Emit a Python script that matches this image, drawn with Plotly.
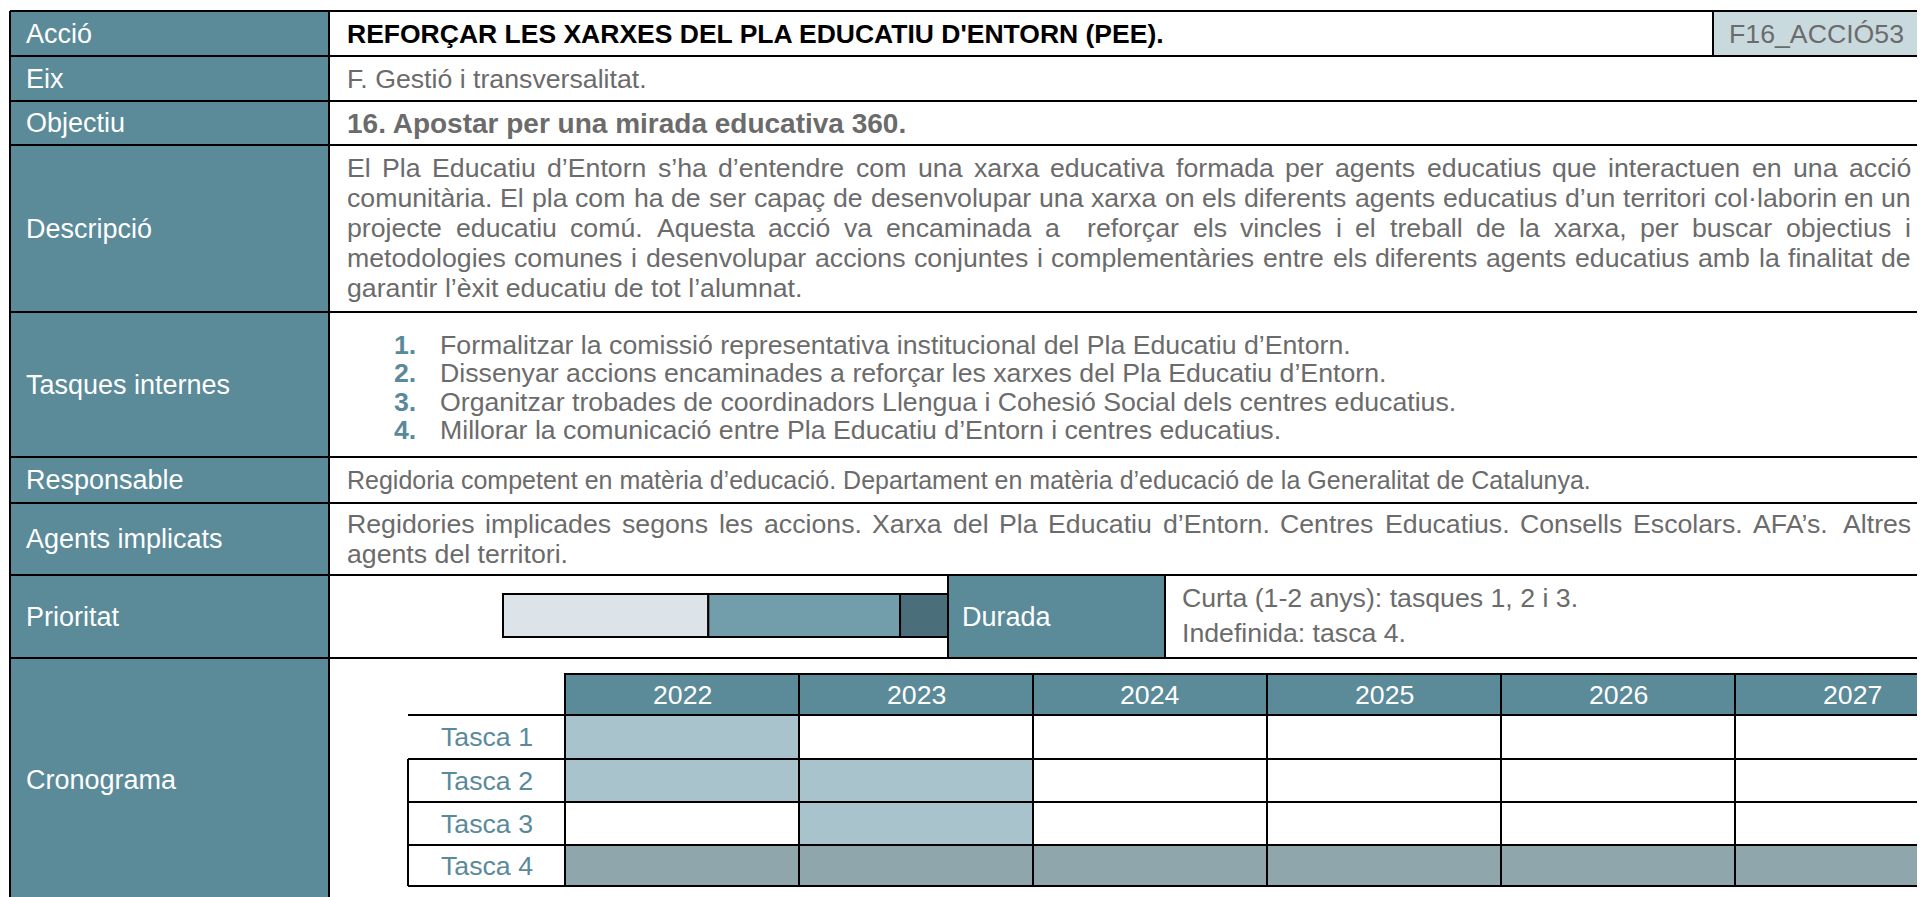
import plotly.graph_objects as go

# ---------------- data ----------------
row_labels = ["Acció", "Eix", "Objectiu", "Descripció", "Tasques internes",
              "Responsable", "Agents implicats", "Prioritat", "Cronograma"]
accio_title = "REFORÇAR LES XARXES DEL PLA EDUCATIU D'ENTORN (PEE)."
accio_code = "F16_ACCIÓ53"
eix_text = "F. Gestió i transversalitat."
objectiu_text = "16. Apostar per una mirada educativa 360."
descripcio_lines = [
    "El Pla Educatiu d’Entorn s’ha d’entendre com una xarxa educativa formada per agents educatius que interactuen en una acció",
    "comunitària. El pla com ha de ser capaç de desenvolupar una xarxa on els diferents agents educatius d’un territori col·laborin en un",
    "projecte educatiu comú. Aquesta acció va encaminada a  reforçar els vincles i el treball de la xarxa, per buscar objectius i",
    "metodologies comunes i desenvolupar accions conjuntes i complementàries entre els diferents agents educatius amb la finalitat de",
    "garantir l’èxit educatiu de tot l’alumnat.",
]
tasques_num = ["1.", "2.", "3.", "4."]
tasques_text = [
    "Formalitzar la comissió representativa institucional del Pla Educatiu d’Entorn.",
    "Dissenyar accions encaminades a reforçar les xarxes del Pla Educatiu d’Entorn.",
    "Organitzar trobades de coordinadors Llengua i Cohesió Social dels centres educatius.",
    "Millorar la comunicació entre Pla Educatiu d’Entorn i centres educatius.",
]
responsable_text = "Regidoria competent en matèria d’educació. Departament en matèria d’educació de la Generalitat de Catalunya."
agents_lines = [
    "Regidories implicades segons les accions. Xarxa del Pla Educatiu d’Entorn. Centres Educatius. Consells Escolars. AFA’s. Altres",
    "agents del territori.",
]
durada_label = "Durada"
durada_lines = ["Curta (1-2 anys): tasques 1, 2 i 3.", "Indefinida: tasca 4."]
priority_segments = [167, 156, 39]          # relative widths of the priority scale
years = ["2022", "2023", "2024", "2025", "2026", "2027"]
tasks = ["Tasca 1", "Tasca 2", "Tasca 3", "Tasca 4"]
# 0 = empty, 1 = short duration, 2 = indefinite
schedule = [
    [1, 0, 0, 0, 0, 0],
    [1, 1, 0, 0, 0, 0],
    [0, 1, 0, 0, 0, 0],
    [2, 2, 2, 2, 2, 2],
]

# ---------------- style / layout ----------------
W, H = 1925, 897
OFF = 8  # page body margin; axis coordinates = page pixels
FONT = "Liberation Sans, Arial, sans-serif"
TEAL = "#5B8A99"
CODE_FILL = "#C9DADF"
PRIO_COLORS = ["#DCE4EA", "#729DAA", "#4A6F7A"]
CELL_COLORS = {0: "white", 1: "#A9C3CC", 2: "#90A6AD"}
GRAY = "#6B6B6B"
TASK_TEAL = "#5A8A9A"
LW = 2
FS = 26.7
LFS = 27

X_LEFT, X_DIV, X_RIGHT, X_CODE = 10, 329, 1919, 1713
row_edges = [11, 56, 101, 145, 312, 457, 503, 575, 658, 902]
TX = 346
TX_R = 1910
LX = 25

# Arial / Helvetica advance widths (1/1000 em) for justification
CW = {' ': 278, '.': 278, ',': 278, ':': 278, ';': 278, '’': 222, "'": 191, '·': 278,
      '(': 333, ')': 333, '-': 333}
for c in "abdeghnopqu0123456789àèéòóúü":
    CW[c] = 556
for c in "ckszvxyç":
    CW[c] = 500
CW.update({'f': 278, 't': 278, 'i': 222, 'j': 222, 'l': 222, 'm': 833, 'r': 333, 'w': 722,
           'í': 278, 'ï': 278})
CW.update({'A': 667, 'B': 667, 'C': 722, 'D': 722, 'E': 667, 'F': 611, 'G': 778, 'H': 722,
           'I': 278, 'J': 500, 'K': 667, 'L': 556, 'M': 833, 'N': 722, 'O': 778, 'P': 667,
           'Q': 778, 'R': 722, 'S': 667, 'T': 611, 'U': 722, 'V': 667, 'W': 944, 'X': 667,
           'Y': 667, 'Z': 611})


def tw(s, size):
    return sum(CW.get(ch, 556) for ch in s) / 1000.0 * size


shapes = []
ann = []


def rect(x0, y0, x1, y1, fill, line=True):
    shapes.append(dict(type="rect", xref="x", yref="y", x0=x0, y0=y0, x1=x1, y1=y1,
                       fillcolor=fill, line=dict(color="black", width=LW if line else 0),
                       layer="below"))


def hline(y, x0, x1):
    shapes.append(dict(type="line", xref="x", yref="y", x0=x0, x1=x1, y0=y, y1=y,
                       line=dict(color="black", width=LW)))


def vline(x, y0, y1):
    shapes.append(dict(type="line", xref="x", yref="y", x0=x, x1=x, y0=y0, y1=y1,
                       line=dict(color="black", width=LW)))


def text(x, y, s, color=GRAY, size=FS, bold=False, anchor="left"):
    if bold:
        s = "<b>" + s + "</b>"
    ann.append(dict(x=x, y=y, xref="x", yref="y", text=s, showarrow=False,
                    xanchor=anchor, yanchor="middle", borderpad=0,
                    font=dict(family=FONT, size=size, color=color)))


def justified(x0, x1, y, s, size=FS, color=GRAY):
    words = s.split(" ")
    gaps = len(words) - 1
    natural = tw(s, size)
    extra = (x1 - x0 - natural) / gaps if gaps else 0
    x = x0
    for w in words:
        if w:
            text(x, y, w, color=color, size=size)
        x += tw(w, size) + tw(" ", size) + extra


def center(i):
    return (row_edges[i] + row_edges[i + 1]) / 2


# label column
rect(X_LEFT, row_edges[0], X_DIV, row_edges[-1], TEAL, line=False)
# code cell
rect(X_CODE, row_edges[0], X_RIGHT, row_edges[1], CODE_FILL, line=False)

for i, lab in enumerate(row_labels):
    text(LX, center(i), lab, color="white", size=LFS)

for y in row_edges[:-1]:
    hline(y, X_LEFT, X_RIGHT)
vline(X_LEFT, row_edges[0], H + OFF)
vline(X_RIGHT, row_edges[0], H + OFF)
vline(X_DIV, row_edges[0], H + OFF)
vline(X_CODE, row_edges[0], row_edges[1])

# Acció row
text(TX, center(0), accio_title, color="black", size=26.5, bold=True)
text((X_CODE + X_RIGHT) / 2, center(0), accio_code, color=GRAY, anchor="center")
# Eix
text(TX, center(1), eix_text)
# Objectiu
text(TX, center(2), objectiu_text, bold=True, size=28)
# Descripció (justified)
pitch = 30
n = len(descripcio_lines)
for k, s in enumerate(descripcio_lines):
    y = center(3) - 1 + (k - (n - 1) / 2) * pitch
    if k < n - 1:
        justified(TX, TX_R, y, s)
    else:
        text(TX, y, s)
# Tasques
pitch = 28.5
n = len(tasques_text)
for k, (num, s) in enumerate(zip(tasques_num, tasques_text)):
    y = center(4) + 3 + (k - (n - 1) / 2) * pitch
    text(393, y, num, color=TASK_TEAL, bold=True)
    text(439, y, s)
# Responsable
text(TX, center(5), responsable_text, size=25)
# Agents
pitch = 30
n = len(agents_lines)
for k, s in enumerate(agents_lines):
    y = center(6) + (k - (n - 1) / 2) * pitch
    if k < n - 1:
        justified(TX, TX_R, y, s)
    else:
        text(TX, y, s)

# Prioritat row
PB_X0, PB_X1, PB_Y0, PB_Y1 = 503, 948, 594, 637
tot = sum(priority_segments)
x = PB_X0
for w, c in zip(priority_segments, PRIO_COLORS):
    x1 = x + w / tot * (PB_X1 - PB_X0)
    rect(x, PB_Y0, x1, PB_Y1, c)
    x = x1
D_X0, D_X1 = 948, 1165
rect(D_X0, row_edges[7], D_X1, row_edges[8], TEAL)
text(961, center(7), durada_label, color="white", size=LFS)
pitch = 35
for k, s in enumerate(durada_lines):
    text(1181, center(7) - 1 + (k - 0.5) * pitch, s)

# Cronograma
G_LX, G_X0, COLW = 408, 565, 234
G_HY0, G_HY1 = 674, 715
ROWH = [715, 759, 802, 845, 886]
for j, yr in enumerate(years):
    cx0 = G_X0 + j * COLW
    cx1 = cx0 + COLW
    rect(cx0, G_HY0, min(cx1, X_RIGHT), G_HY1, TEAL)
    text((cx0 + cx1) / 2, (G_HY0 + G_HY1) / 2, yr, color="white", anchor="center")
for i, t in enumerate(tasks):
    y0, y1 = ROWH[i], ROWH[i + 1]
    for j in range(len(years)):
        cx0 = G_X0 + j * COLW
        cx1 = min(cx0 + COLW, X_RIGHT)
        rect(cx0, y0, cx1, y1, CELL_COLORS[schedule[i][j]])
    text((G_LX + G_X0) / 2, (y0 + y1) / 2, t, color=TASK_TEAL, anchor="center")
    hline(y0, G_LX, X_RIGHT)
hline(ROWH[-1], G_LX, X_RIGHT)
vline(G_LX, ROWH[1], ROWH[-1])

fig = go.Figure()
fig.update_layout(
    width=W, height=H, margin=dict(l=0, r=0, t=0, b=0),
    paper_bgcolor="white", plot_bgcolor="white",
    xaxis=dict(range=[OFF, W + OFF], visible=False, fixedrange=True),
    yaxis=dict(range=[H + OFF, OFF], visible=False, fixedrange=True),
    shapes=shapes, annotations=ann, showlegend=False,
)
fig.write_html("out.html")
